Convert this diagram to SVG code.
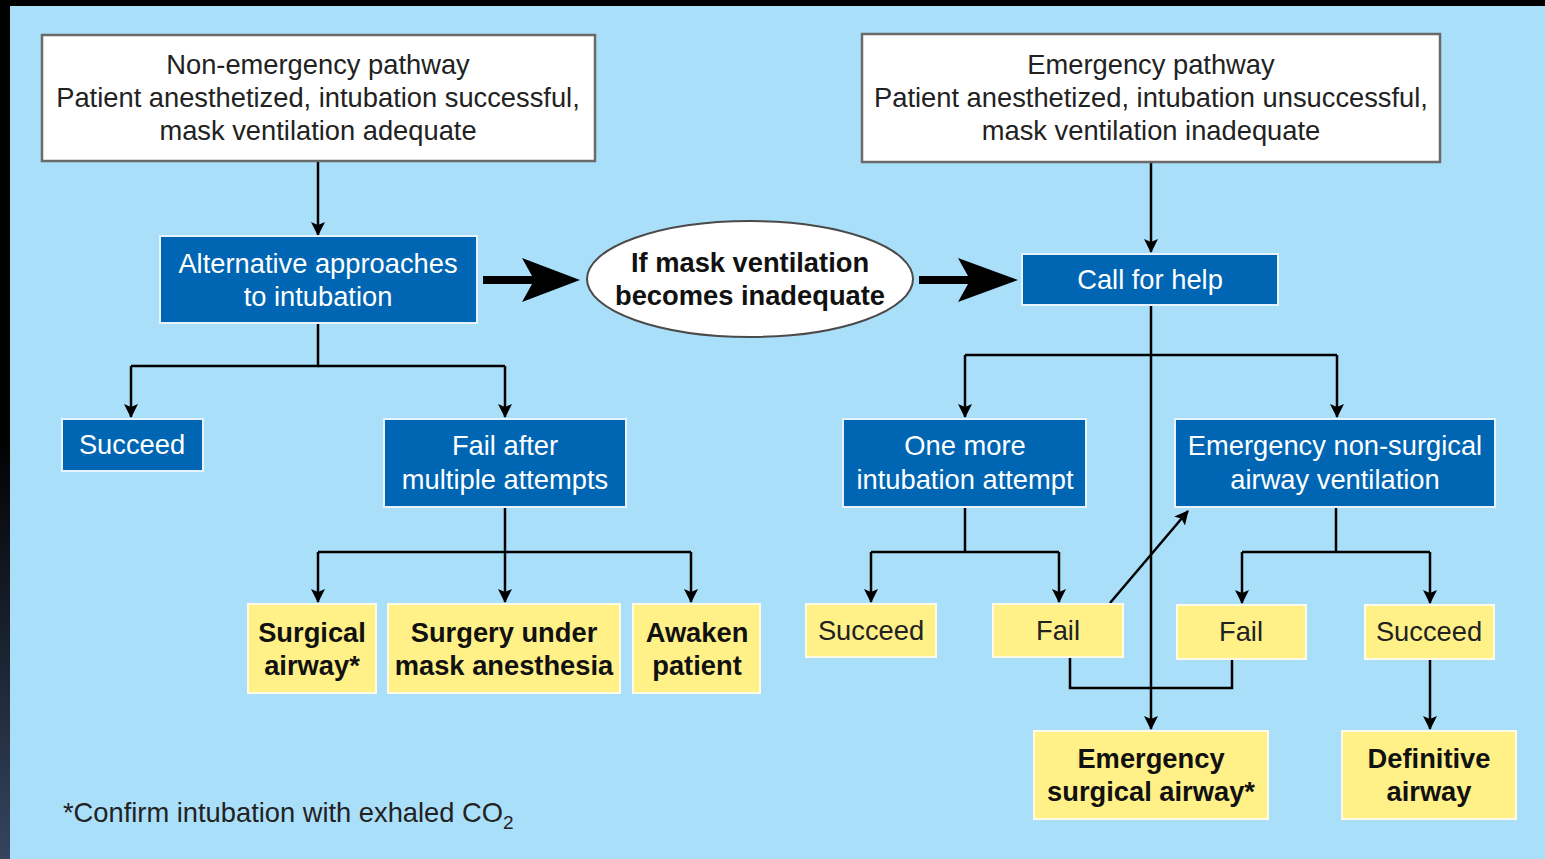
<svg xmlns="http://www.w3.org/2000/svg" width="1545" height="859" viewBox="0 0 1545 859">
<defs>
<linearGradient id="edge" x1="0" y1="0" x2="0" y2="1">
<stop offset="0" stop-color="#000"/>
<stop offset="0.5" stop-color="#000"/>
<stop offset="1" stop-color="#35445f"/>
</linearGradient>
<marker id="ah" markerUnits="userSpaceOnUse" markerWidth="14" markerHeight="16" viewBox="0 0 14 16" refX="13" refY="8" orient="auto">
<path d="M0,1 L14,8 L0,15 L3,8 Z" fill="#000"/>
</marker>
<style>
.bg{fill:#aadffa}
.wbox{fill:#fff;stroke:#6a6a6a;stroke-width:2.5}
.bbox{fill:#0066b3;stroke:#e6f3fd;stroke-width:2}
.ybox{fill:#fff087;stroke:#fffbe6;stroke-width:2}
.ell{fill:#fff;stroke:#4a4a4a;stroke-width:2}
text{font-family:"Liberation Sans",Arial,sans-serif;font-size:27.3px;text-anchor:middle}
.tw{fill:#222}
.tb{fill:#fff}
.ty{fill:#111;font-weight:bold}
.tn{fill:#222}
.conn line,.conn polyline{fill:none;stroke:#000;stroke-width:2.5}
.arr{marker-end:url(#ah)}
.thick{fill:#000}
</style>
</defs>
<rect class="bg" x="0" y="0" width="1545" height="859"/>
<rect x="0" y="0" width="1545" height="6" fill="#000"/>
<rect x="0" y="0" width="10" height="859" fill="url(#edge)"/>

<g id="connectors" class="conn">
<line class="arr" x1="318" y1="162" x2="318" y2="235"/>
<polyline points="318,324 318,366 131,366"/>
<line x1="318" y1="366" x2="505" y2="366"/>
<line class="arr" x1="131" y1="366" x2="131" y2="417"/>
<line class="arr" x1="505" y1="366" x2="505" y2="417"/>
<line x1="505" y1="508" x2="505" y2="552"/>
<line x1="318" y1="552" x2="691" y2="552"/>
<line class="arr" x1="318" y1="552" x2="318" y2="602"/>
<line class="arr" x1="505" y1="552" x2="505" y2="602"/>
<line class="arr" x1="691" y1="552" x2="691" y2="602"/>
<line class="arr" x1="1151" y1="163" x2="1151" y2="252"/>
<line class="arr" x1="1151" y1="306" x2="1151" y2="729"/>
<line x1="965" y1="355" x2="1337" y2="355"/>
<line class="arr" x1="965" y1="355" x2="965" y2="417"/>
<line class="arr" x1="1337" y1="355" x2="1337" y2="417"/>
<line x1="965" y1="508" x2="965" y2="552"/>
<line x1="871" y1="552" x2="1059" y2="552"/>
<line class="arr" x1="871" y1="552" x2="871" y2="602"/>
<line class="arr" x1="1059" y1="552" x2="1059" y2="602"/>
<line x1="1336" y1="508" x2="1336" y2="552"/>
<line x1="1242" y1="552" x2="1430" y2="552"/>
<line class="arr" x1="1242" y1="552" x2="1242" y2="603"/>
<line class="arr" x1="1430" y1="552" x2="1430" y2="603"/>
<polyline points="1070,658 1070,688 1232,688 1232,660"/>
<line class="arr" x1="1110" y1="603" x2="1188" y2="511"/>
<line class="arr" x1="1430" y1="660" x2="1430" y2="729"/>
<path class="thick" d="M483,276 L532,276 L522,258 L580,280 L522,302 L532,284 L483,284 Z"/>
<path class="thick" d="M919,276 L968,276 L958,258 L1018,280 L958,302 L968,284 L919,284 Z"/>
</g>

<g id="non-emergency">
<rect class="wbox" x="42" y="35" width="553" height="126"/>
<text class="tw" x="318" y="74">Non-emergency pathway</text>
<text class="tw" x="318" y="107">Patient anesthetized, intubation successful,</text>
<text class="tw" x="318" y="140">mask ventilation adequate</text>
</g>
<g id="emergency">
<rect class="wbox" x="862" y="34" width="578" height="128"/>
<text class="tw" x="1151" y="74">Emergency pathway</text>
<text class="tw" x="1151" y="107">Patient anesthetized, intubation unsuccessful,</text>
<text class="tw" x="1151" y="140">mask ventilation inadequate</text>
</g>
<g id="alternative">
<rect class="bbox" x="160" y="236" width="317" height="87"/>
<text class="tb" x="318" y="273">Alternative approaches</text>
<text class="tb" x="318" y="306">to intubation</text>
</g>
<g id="if-mask">
<ellipse class="ell" cx="750" cy="279" rx="163" ry="58"/>
<text class="ty" x="750" y="272">If mask ventilation</text>
<text class="ty" x="750" y="305">becomes inadequate</text>
</g>
<g id="call-help">
<rect class="bbox" x="1022" y="254" width="256" height="51"/>
<text class="tb" x="1150" y="289">Call for help</text>
</g>
<g id="succeed-left">
<rect class="bbox" x="62" y="419" width="141" height="52"/>
<text class="tb" x="132" y="454">Succeed</text>
</g>
<g id="fail-after">
<rect class="bbox" x="384" y="419" width="242" height="88"/>
<text class="tb" x="505" y="455">Fail after</text>
<text class="tb" x="505" y="489">multiple attempts</text>
</g>
<g id="one-more">
<rect class="bbox" x="843" y="419" width="243" height="88"/>
<text class="tb" x="965" y="455">One more</text>
<text class="tb" x="965" y="489">intubation attempt</text>
</g>
<g id="non-surgical">
<rect class="bbox" x="1175" y="419" width="320" height="88"/>
<text class="tb" x="1335" y="455">Emergency non-surgical</text>
<text class="tb" x="1335" y="489">airway ventilation</text>
</g>
<g id="surgical-airway">
<rect class="ybox" x="248" y="604" width="128" height="89"/>
<text class="ty" x="312" y="642">Surgical</text>
<text class="ty" x="312" y="675">airway*</text>
</g>
<g id="surgery-mask">
<rect class="ybox" x="388" y="604" width="232" height="89"/>
<text class="ty" x="504" y="642">Surgery under</text>
<text class="ty" x="504" y="675">mask anesthesia</text>
</g>
<g id="awaken">
<rect class="ybox" x="633" y="604" width="127" height="89"/>
<text class="ty" x="697" y="642">Awaken</text>
<text class="ty" x="697" y="675">patient</text>
</g>
<g id="succeed-mid">
<rect class="ybox" x="806" y="604" width="130" height="53"/>
<text class="tn" x="871" y="640">Succeed</text>
</g>
<g id="fail-1">
<rect class="ybox" x="993" y="604" width="130" height="53"/>
<text class="tn" x="1058" y="640">Fail</text>
</g>
<g id="fail-2">
<rect class="ybox" x="1177" y="605" width="129" height="54"/>
<text class="tn" x="1241" y="641">Fail</text>
</g>
<g id="succeed-right">
<rect class="ybox" x="1365" y="605" width="129" height="54"/>
<text class="tn" x="1429" y="641">Succeed</text>
</g>
<g id="emergency-surgical">
<rect class="ybox" x="1034" y="731" width="234" height="88"/>
<text class="ty" x="1151" y="768">Emergency</text>
<text class="ty" x="1151" y="801">surgical airway*</text>
</g>
<g id="definitive">
<rect class="ybox" x="1342" y="731" width="174" height="88"/>
<text class="ty" x="1429" y="768">Definitive</text>
<text class="ty" x="1429" y="801">airway</text>
</g>
<g id="footnote">
<text class="tw" x="63" y="822" style="text-anchor:start">*Confirm intubation with exhaled CO<tspan dy="7" font-size="19">2</tspan></text>
</g>
</svg>
